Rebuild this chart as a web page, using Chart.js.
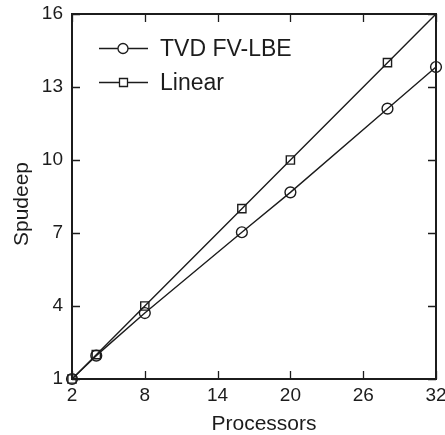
<!DOCTYPE html>
<html>
<head>
<meta charset="utf-8">
<script src="https://cdn.jsdelivr.net/npm/chart.js@4/dist/chart.umd.min.js"></script>
<style>
  html, body { margin: 0; padding: 0; background: #fff; }
  canvas { display: block; }
</style>
</head>
<body>
<canvas id="speedupChart" width="445" height="435"></canvas>
<script>
// Dados
const processadores = [2, 4, 8, 16, 20, 28, 32];
const speedupTVD = [1, 1.96, 3.71, 7.03, 8.67, 12.11, 13.82];
const speedupLinear = [1, 2, 4, 8, 10, 14, 16];
const ticksX = [2, 8, 14, 20, 26, 32];
const ticksY = [1, 4, 7, 10, 13, 16];
const nomesSeries = ['TVD FV-LBE', 'Linear'];

const corTinta = '#1c1c1c';
const fonte = 'Liberation Sans, Arial, sans-serif';

const paraPontos = (ys) => processadores.map((x, i) => ({ x: x, y: ys[i] }));

// Moldura, ticks para dentro, títulos dos eixos e legenda com linha + marcador
const pluginMoldura = {
  id: 'moldura',
  afterDraw(chart) {
    const ctx = chart.ctx;
    const a = chart.chartArea;
    const sx = chart.scales.x;
    const sy = chart.scales.y;
    const tam = 8;
    ctx.save();
    ctx.strokeStyle = corTinta;
    ctx.lineWidth = 1.3;
    ctx.beginPath();
    ticksX.forEach((v) => {
      const px = Math.round(sx.getPixelForValue(v)) + 0.5;
      ctx.moveTo(px, a.bottom); ctx.lineTo(px, a.bottom - tam);
      ctx.moveTo(px, a.top); ctx.lineTo(px, a.top + tam);
    });
    ticksY.forEach((v) => {
      const py = Math.round(sy.getPixelForValue(v)) + 0.5;
      ctx.moveTo(a.left, py); ctx.lineTo(a.left + tam, py);
      ctx.moveTo(a.right, py); ctx.lineTo(a.right - tam, py);
    });
    ctx.stroke();
    ctx.lineWidth = 2;
    ctx.strokeRect(a.left, a.top, a.right - a.left, a.bottom - a.top);

    // títulos
    ctx.fillStyle = corTinta;
    ctx.font = '21px ' + fonte;
    ctx.textAlign = 'center';
    ctx.textBaseline = 'middle';
    ctx.fillText('Processors', 264, 424);
    ctx.save();
    ctx.translate(22, 204);
    ctx.rotate(-Math.PI / 2);
    ctx.fillText('Spudeep', 0, 0);
    ctx.restore();

    // legenda
    const linhas = [48, 82];
    chart.data.datasets.forEach((ds, i) => {
      const y = linhas[i] + 0.5;
      ctx.lineWidth = 1.3;
      ctx.strokeStyle = corTinta;
      ctx.beginPath();
      ctx.moveTo(99, y); ctx.lineTo(148, y);
      ctx.stroke();
      ctx.fillStyle = '#fff';
      ctx.beginPath();
      if (ds.pointStyle === 'circle') {
        ctx.arc(123, y, 5, 0, Math.PI * 2);
      } else {
        ctx.rect(119.5, y - 4, 8, 8);
      }
      ctx.fill();
      ctx.stroke();
      ctx.fillStyle = corTinta;
      ctx.font = '23px ' + fonte;
      ctx.textAlign = 'left';
      ctx.fillText(ds.label, 160, y + 1);
    });
    ctx.restore();
  },
};

const config = {
  type: 'line',
  data: {
    datasets: [
      {
        label: nomesSeries[0],
        data: paraPontos(speedupTVD),
        borderColor: corTinta,
        borderWidth: 1.4,
        pointStyle: 'circle',
        pointRadius: 5.4,
        pointBorderWidth: 1.4,
        pointBorderColor: corTinta,
        pointBackgroundColor: 'rgba(0,0,0,0)',
        tension: 0,
        clip: false,
      },
      {
        label: nomesSeries[1],
        data: paraPontos(speedupLinear),
        borderColor: corTinta,
        borderWidth: 1.4,
        pointStyle: 'rect',
        pointRadius: [5.8, 5.8, 5.8, 5.8, 5.8, 5.8, 0],
        pointBorderWidth: 1.4,
        pointBorderColor: corTinta,
        pointBackgroundColor: 'rgba(0,0,0,0)',
        tension: 0,
        clip: false,
      },
    ],
  },
  options: {
    responsive: false,
    animation: false,
    devicePixelRatio: 1,
    layout: { padding: { left: 0, right: 9, top: 14, bottom: 0 } },
    plugins: {
      legend: { display: false },
      tooltip: { enabled: false },
    },
    scales: {
      x: {
        type: 'linear',
        min: 2,
        max: 32,
        afterBuildTicks: (s) => { s.ticks = ticksX.map((v) => ({ value: v })); },
        afterFit: (s) => { s.height = 56; s.paddingLeft = 0; s.paddingRight = 0; },
        grid: { display: false, drawTicks: false },
        border: { display: false },
        ticks: {
          color: corTinta,
          padding: 5,
          font: { size: 19, family: fonte },
        },
      },
      y: {
        type: 'linear',
        min: 1,
        max: 16,
        afterBuildTicks: (s) => { s.ticks = ticksY.map((v) => ({ value: v })); },
        afterFit: (s) => { s.width = 72; s.paddingTop = 0; s.paddingBottom = 0; },
        grid: { display: false, drawTicks: false },
        border: { display: false },
        ticks: {
          color: corTinta,
          padding: 9,
          font: { size: 19, family: fonte },
        },
      },
    },
  },
  plugins: [pluginMoldura],
};

new Chart(document.getElementById('speedupChart').getContext('2d'), config);
</script>
</body>
</html>
